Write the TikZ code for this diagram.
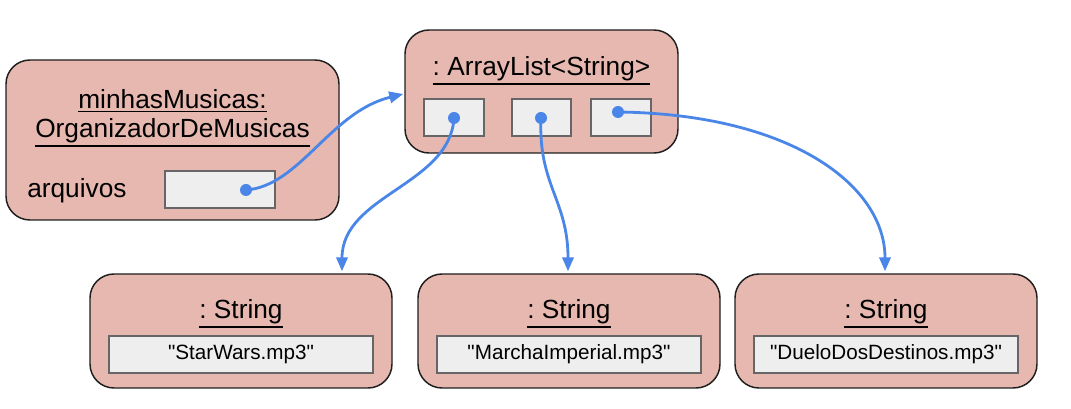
\documentclass[tikz,border=0pt]{standalone}
\usepackage{fontspec}
\setmainfont{Liberation Sans}[Ligatures=TeXOff]
\usetikzlibrary{arrows.meta,calc}
\definecolor{boxfill}{HTML}{E6B8AF}
\definecolor{slotfill}{HTML}{EEEEEE}
\definecolor{slotdraw}{HTML}{666666}
\definecolor{linkblue}{HTML}{4A86E8}
\newcommand\ulin[1]{\vtop{\hbox{#1}\kern1.3pt\hrule height 1.1pt}}
\frenchspacing
\begin{document}
\begin{tikzpicture}[x=0.75pt,y=-0.75pt,
  objbox/.style={draw=black!88,line width=1.1pt,fill=boxfill,rounded corners=18pt,inner sep=0pt},
  slotbox/.style={draw=slotdraw,line width=0.9pt,fill=slotfill,inner sep=0pt,
    font=\fontsize{15.5pt}{18pt}\selectfont},
  title/.style={anchor=base,inner sep=0pt,font=\fontsize{19.7pt}{22pt}\selectfont},
  link/.style={draw=linkblue,line width=2.1pt,-{Triangle[length=10.5pt,width=8.5pt]}},
  dot/.style={circle,fill=linkblue,inner sep=0pt,minimum size=9pt}]
\useasboundingbox (0,0) rectangle (1071,409);

% main object
\node[objbox,minimum width={333*0.75pt},minimum height={160*0.75pt}] (mm) at (172.5,140) {};
\node[title] (mmt1) at (172.5,109) {\ulin{minhasMusicas:}};
\node[title] (mmt2) at (172.5,138) {\ulin{OrganizadorDeMusicas}};
\node[title,anchor=base west] (arqlab) at (27,198) {arquivos};
\node[slotbox,minimum width={110*0.75pt},minimum height={37*0.75pt}] (arq) at (220,189.5) {};

% ArrayList
\node[objbox,minimum width={273*0.75pt},minimum height={123*0.75pt}] (al) at (541.5,91.5) {};
\node[title] (alt) at (541.5,76) {\ulin{: ArrayList<String>}};
\node[slotbox,minimum width={60*0.75pt},minimum height={37*0.75pt}] (a1) at (454,117.5) {};
\node[slotbox,minimum width={59*0.75pt},minimum height={37*0.75pt}] (a2) at (541.5,117.5) {};
\node[slotbox,minimum width={60*0.75pt},minimum height={37*0.75pt}] (a3) at (621,117.5) {};

% Strings
\foreach \n/\x/\txt in {1/241/StarWars.mp3, 2/569/MarchaImperial.mp3, 3/886/DueloDosDestinos.mp3}{
  \node[objbox,minimum width={302*0.75pt},minimum height={114*0.75pt}] (s\n) at (\x,331) {};
  \node[title] (st\n) at (\x,319) {\ulin{: String}};
  \node[slotbox,minimum width={264*0.75pt},minimum height={37*0.75pt}] (v\n) at (\x,354.5) {"\txt"};
}

% reference dots
\coordinate (d0) at ($(arq.center)+(26,0.5)$);
\coordinate (d1) at ($(a1.center)+(0,0.5)$);
\coordinate (d2) at ($(a2.center)+(-0.5,0.5)$);
\coordinate (d3) at ($(a3.center)+(-3,-5.5)$);
\coordinate (e1) at ($(s1.north)+(101,-2)$);
\coordinate (e2) at ($(s2.north)+(-1,-2)$);
\coordinate (e3) at ($(s3.north)+(-1,-2)$);
\coordinate (e0) at ($(al.west)+(-1,2.5)$);

\path[link] (d0) .. controls (300,186) and (330,112) .. (e0);
\path[link] (d1) .. controls (450,185) and (342,195) .. (e1);
\path[link] (d2) .. controls (538,185) and (568,200) .. (e2);
\path[link] (d3) .. controls (790,114) and (885,185) .. (e3);

\node[dot] (p0) at (d0) {};
\node[dot] (p1) at (d1) {};
\node[dot] (p2) at (d2) {};
\node[dot] (p3) at (d3) {};
\end{tikzpicture}
\end{document}
